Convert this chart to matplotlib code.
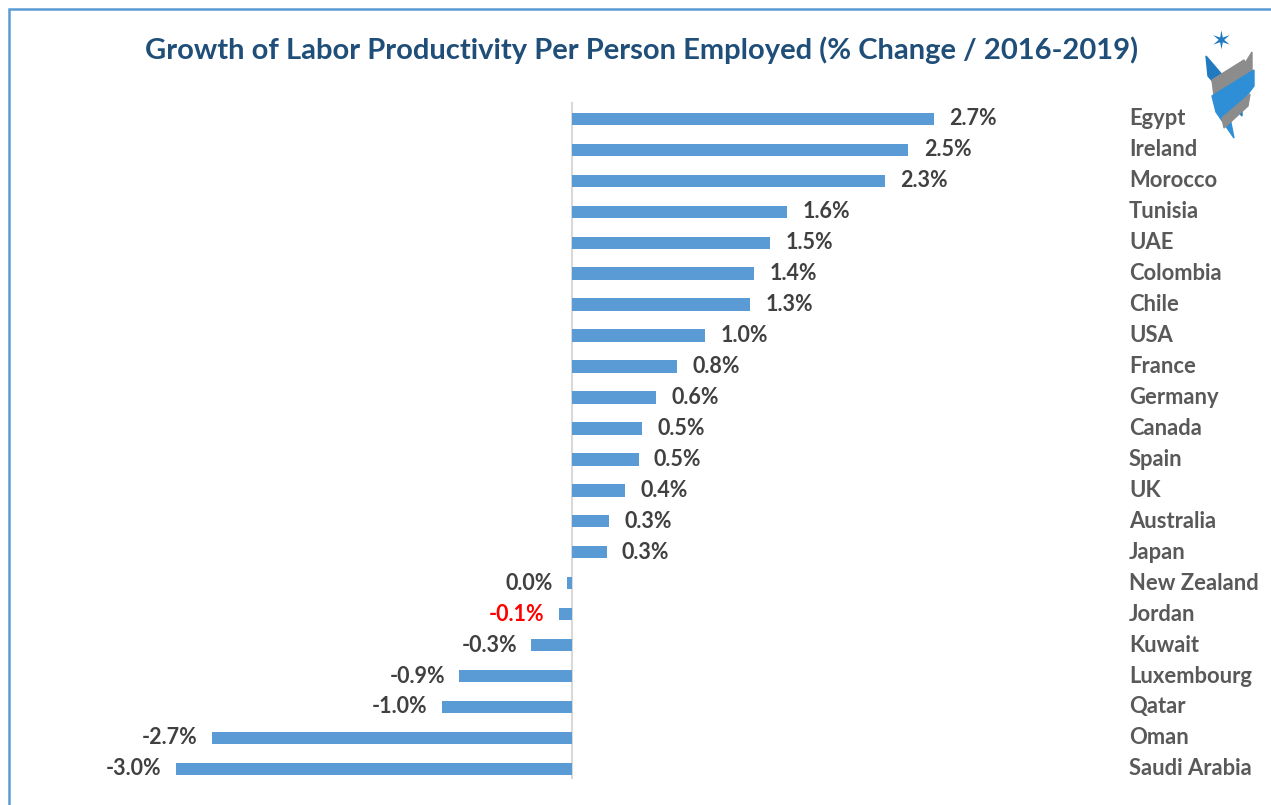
import matplotlib.pyplot as plt
from matplotlib.patches import Rectangle, Polygon
import matplotlib.transforms as mtransforms

countries = ['Egypt', 'Ireland', 'Morocco', 'Tunisia', 'UAE', 'Colombia', 'Chile', 'USA',
             'France', 'Germany', 'Canada', 'Spain', 'UK', 'Australia', 'Japan',
             'New Zealand', 'Jordan', 'Kuwait', 'Luxembourg', 'Qatar', 'Oman', 'Saudi Arabia']
growth = [2.72, 2.53, 2.35, 1.62, 1.49, 1.37, 1.34, 1.00, 0.79, 0.63, 0.53, 0.50, 0.40,
          0.28, 0.26, -0.04, -0.10, -0.31, -0.85, -0.98, -2.71, -2.98]
labels = ['2.7%', '2.5%', '2.3%', '1.6%', '1.5%', '1.4%', '1.3%', '1.0%', '0.8%', '0.6%',
          '0.5%', '0.5%', '0.4%', '0.3%', '0.3%', '0.0%', '-0.1%', '-0.3%', '-0.9%',
          '-1.0%', '-2.7%', '-3.0%']
highlight = 'Jordan'

plt.rcParams['font.family'] = ['Lato', 'DejaVu Sans']

W, H = 1271, 805
fig = plt.figure(figsize=(W / 100, H / 100), dpi=100)
ax = fig.add_axes([100 / W, 1 - 785 / H, 1000 / W, 685 / H])

ypos = list(range(len(countries)))
ax.barh(ypos, growth, height=0.4, color='#5B9BD5')
ax.set_xlim(-3.549, 3.97)
ax.set_ylim(21.52, -0.61)
ax.axvline(0, ymin=0.01, ymax=0.995, color='#D9D9D9', lw=1.5, zorder=0)
ax.axis('off')

for y, v, lab, c in zip(ypos, growth, labels, countries):
    col = 'red' if c == highlight else '#404040'
    off = 11 if v >= 0 else -10
    ax.annotate(lab, (v, y), xytext=(off, 0), textcoords='offset points',
                ha='left' if v >= 0 else 'right', va='center',
                fontsize=15.5, fontweight='bold', color=col)

trans = mtransforms.blended_transform_factory(fig.transFigure, ax.transData)
for y, c in zip(ypos, countries):
    ax.text(1129 / W, y, c, transform=trans, ha='left', va='center',
            fontsize=15.8, fontweight='bold', color='#595959', clip_on=False)

fig.text(0.505, 1 - 50 / H, 'Growth of Labor Productivity Per Person Employed (% Change / 2016-2019)',
         ha='center', va='center', fontsize=21, fontweight='bold', color='#1F4E79')

# border (right and bottom edges are cropped in the original)
fig.patches.append(Rectangle((9 / W, -0.05), 1.1, 1 - 9 / H + 0.05, transform=fig.transFigure,
                             fill=False, edgecolor='#5B9BD5', lw=1.8))

# rough logo
def px(pts):
    return [(x / W, 1 - y / H) for x, y in pts]

fig.text(1221 / W, 1 - 42 / H, '\u2736', ha='center', va='center', fontsize=18,
         color='#1F7AC0', family='DejaVu Sans')
fig.patches.append(Polygon(px([(1206, 56), (1242, 98), (1242, 116), (1208, 76)]),
                           transform=fig.transFigure, color='#1F7AC0'))
fig.patches.append(Polygon(px([(1252, 52), (1226, 94), (1226, 110), (1252, 70)]),
                           transform=fig.transFigure, color='#8C8C8C'))
fig.patches.append(Polygon(px([(1212, 80), (1244, 60), (1250, 70), (1214, 96)]),
                           transform=fig.transFigure, color='#8C8C8C'))
fig.patches.append(Polygon(px([(1212, 96), (1254, 70), (1254, 86), (1230, 118), (1234, 138), (1216, 112)]),
                           transform=fig.transFigure, color='#2E8FD6'))
fig.patches.append(Polygon(px([(1222, 118), (1250, 94), (1248, 106), (1224, 128)]),
                           transform=fig.transFigure, color='#8C8C8C'))

fig.savefig('out.png', dpi=100)
